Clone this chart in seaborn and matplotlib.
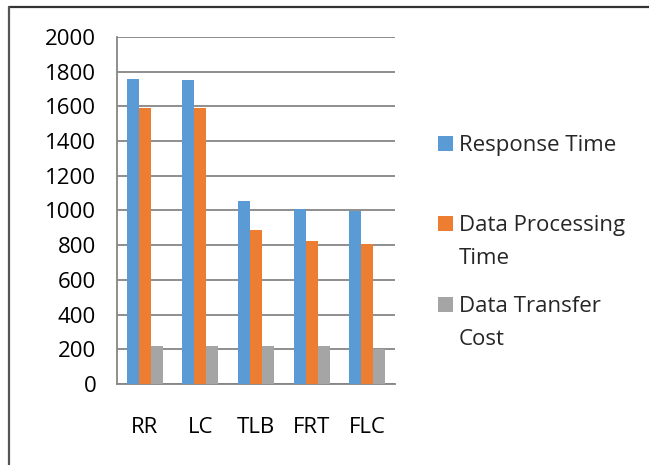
import matplotlib
matplotlib.use("Agg")
import matplotlib.pyplot as plt
import seaborn as sns
import pandas as pd
from matplotlib.patches import Rectangle
from matplotlib.lines import Line2D

categories = ["RR", "LC", "TLB", "FRT", "FLC"]
series = ["Response Time", "Data Processing Time", "Data Transfer Cost"]
legend_labels = ["Response Time", "Data Processing\nTime", "Data Transfer\nCost"]
response_time = [1760, 1755, 1053, 1010, 998]
processing_time = [1591, 1590, 890, 822, 809]
transfer_cost = [220, 218, 219, 219, 204]
y_ticks = [0, 200, 400, 600, 800, 1000, 1200, 1400, 1600, 1800, 2000]
colors = ["#5B9BD5", "#ED7D31", "#A5A5A5"]

rows = []
for name, vals in zip(series, [response_time, processing_time, transfer_cost]):
    for c, v in zip(categories, vals):
        rows.append({"cat": c, "series": name, "value": v})
df = pd.DataFrame(rows)

sns.set_style("white")
plt.rcParams["font.family"] = ["Open Sans", "DejaVu Sans"]
FS = 16

W, H = 649, 465
fig = plt.figure(figsize=(W / 100, H / 100), dpi=100)
ax = fig.add_axes([117 / W, 1 - 384 / H, (395 - 117) / W, (384 - 37) / H])

sns.barplot(data=df, x="cat", y="value", hue="series", palette=colors,
            width=0.65, saturation=1, legend=False, ax=ax, zorder=3)
for p in ax.patches:
    p.set_edgecolor("none")

ax.set_ylim(0, 2000)
ax.set_xlim(-0.5, len(categories) - 0.5)
ax.set_yticks(y_ticks)
ax.set_yticklabels([str(t) for t in y_ticks], fontsize=FS, color="#000000")
ax.set_xticks(range(len(categories)))
ax.set_xticklabels(categories, fontsize=FS, color="#000000")
ax.set_xticks([i - 0.5 for i in range(len(categories) + 1)], minor=True)
ax.tick_params(axis="x", which="major", length=0, pad=24)
ax.tick_params(axis="x", which="minor", length=5, width=1.3, color="#868686", direction="out")
ax.tick_params(axis="y", which="major", length=7, width=1.3, color="#868686", direction="out", pad=8)
ax.set_xlabel("")
ax.set_ylabel("")
ax.grid(axis="y", color="#868686", linewidth=1.3, zorder=0)
ax.set_axisbelow(True)
for s in ["top", "right"]:
    ax.spines[s].set_visible(False)
for s in ["left", "bottom"]:
    ax.spines[s].set_color("#868686")
    ax.spines[s].set_linewidth(1.3)

# legend
ys = [143.5, 223.5, 304.5]
for lab, col, yc in zip(legend_labels, colors, ys):
    fig.patches.append(Rectangle((438 / W, 1 - (yc + 7.5) / H), 15 / W, 15 / H,
                                 transform=fig.transFigure, facecolor=col, edgecolor="none"))
    for i, line in enumerate(lab.split("\n")):
        fig.text(459 / W, 1 - (yc + 7.5 + i * 32.5) / H, line, fontsize=FS,
                 va="baseline", ha="left")

# outer frame (top and left edges visible)
fig.lines.append(Line2D([9 / W, 1], [1 - 7.5 / H, 1 - 7.5 / H], transform=fig.transFigure,
                        color="#333333", linewidth=1.6))
fig.lines.append(Line2D([9 / W, 9 / W], [0, 1 - 7.5 / H], transform=fig.transFigure,
                        color="#555555", linewidth=1.6))

fig.savefig("out.png", dpi=100)
